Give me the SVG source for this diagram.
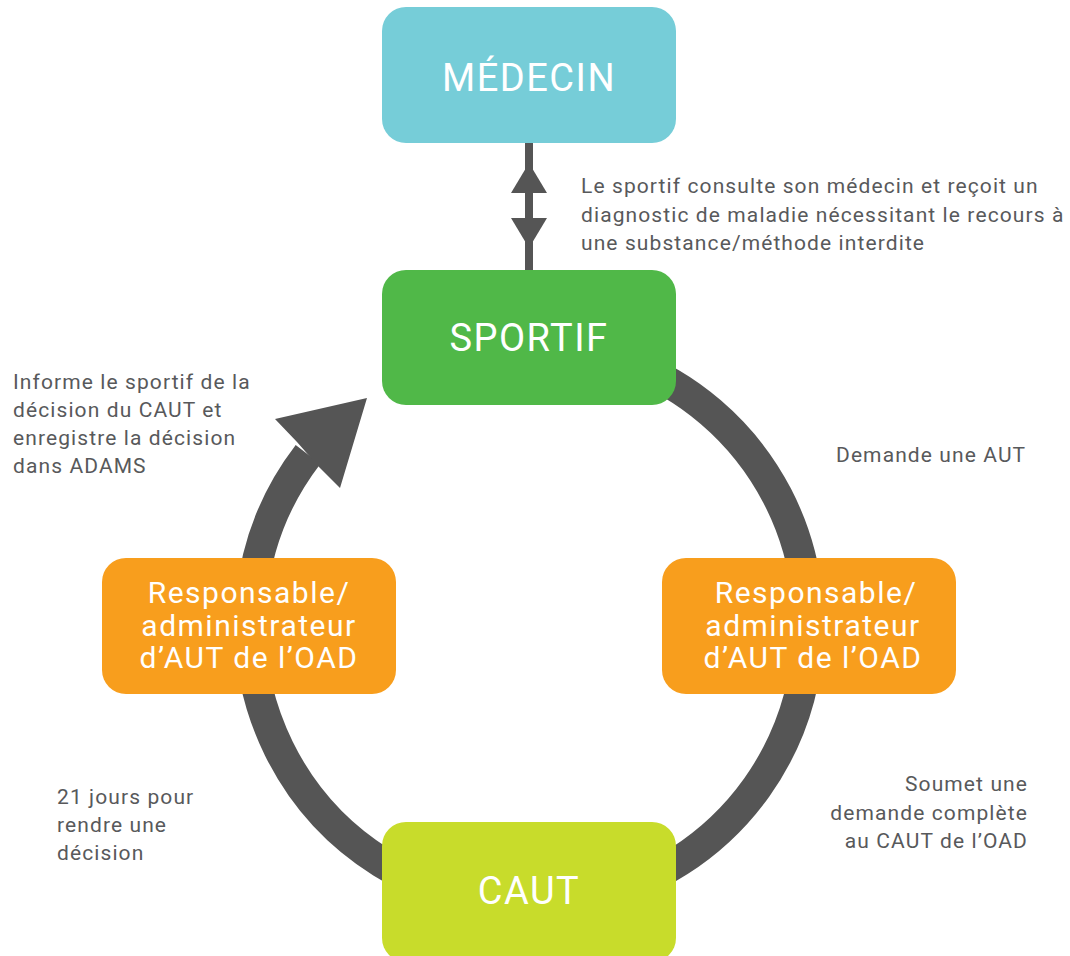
<svg xmlns="http://www.w3.org/2000/svg" width="1070" height="956" viewBox="0 0 1070 956">
<style>
.lbl{font-family:Roboto,"Liberation Sans",sans-serif;font-size:21px;fill:#58595b;letter-spacing:1.1px}
.big{font-family:Roboto,"Liberation Sans",sans-serif;font-size:38px;fill:#ffffff;text-anchor:middle;letter-spacing:1.5px}
.mid{font-family:Roboto,"Liberation Sans",sans-serif;font-size:30px;fill:#ffffff;text-anchor:middle;letter-spacing:1.5px}
.ring{fill:none;stroke:#555555;stroke-width:31}
.dark{fill:#555555}
</style>
<rect width="1070" height="956" fill="#ffffff"/>
<g id="connectors">
  <rect x="525" y="143" width="8" height="127" class="dark"/>
  <polygon points="529,163 547,193 511,193" class="dark"/>
  <polygon points="511,218 547,218 529,248" class="dark"/>
  <path d="M624.8,361.9 A280,280 0 0 1 480.4,900.7" class="ring"/>
  <path d="M529,905 A280,280 0 0 1 308,454.5" class="ring"/>
  <polygon points="367,398 340,488 319,467 297,442 275,419" class="dark"/>
</g>
<g id="medecin">
  <rect x="382" y="7" width="294" height="136" rx="24" fill="#76cdd8"/>
  <text x="529" y="91" class="big">MÉDECIN</text>
</g>
<g id="sportif">
  <rect x="382" y="270" width="294" height="135" rx="24" fill="#50b848"/>
  <text x="529" y="351" class="big">SPORTIF</text>
</g>
<g id="responsable-gauche">
  <rect x="102" y="558" width="294" height="136" rx="24" fill="#f89e1d"/>
  <text x="249" y="603" class="mid">Responsable/</text>
  <text x="249" y="636" class="mid">administrateur</text>
  <text x="249" y="668" class="mid">d’AUT de l’OAD</text>
</g>
<g id="responsable-droite">
  <rect x="662" y="558" width="294" height="136" rx="24" fill="#f89e1d"/>
  <text x="816" y="603" class="mid">Responsable/</text>
  <text x="813" y="636" class="mid">administrateur</text>
  <text x="813" y="668" class="mid">d’AUT de l’OAD</text>
</g>
<g id="caut">
  <rect x="382" y="822" width="294" height="140" rx="24" fill="#c8dc2b"/>
  <text x="529" y="904" class="big">CAUT</text>
</g>
<g id="labels">
  <text class="lbl" x="581" y="193">Le sportif consulte son médecin et reçoit un</text>
  <text class="lbl" x="581" y="222">diagnostic de maladie nécessitant le recours à</text>
  <text class="lbl" x="581" y="250">une substance/méthode interdite</text>
  <text class="lbl" x="13" y="389">Informe le sportif de la</text>
  <text class="lbl" x="13" y="417">décision du CAUT et</text>
  <text class="lbl" x="13" y="445">enregistre la décision</text>
  <text class="lbl" x="13" y="473">dans ADAMS</text>
  <text class="lbl" x="836" y="462">Demande une AUT</text>
  <text class="lbl" x="1028" y="791" text-anchor="end">Soumet une</text>
  <text class="lbl" x="1028" y="820" text-anchor="end">demande complète</text>
  <text class="lbl" x="1028" y="848" text-anchor="end">au CAUT de l’OAD</text>
  <text class="lbl" x="57" y="804">21 jours pour</text>
  <text class="lbl" x="57" y="832">rendre une</text>
  <text class="lbl" x="57" y="860">décision</text>
</g>
</svg>
